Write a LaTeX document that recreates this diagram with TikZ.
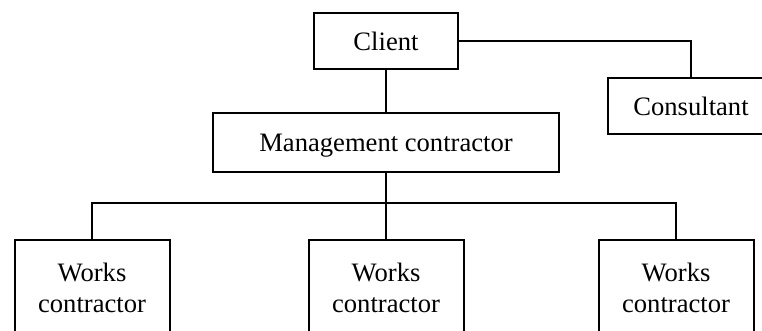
\documentclass[tikz,border=0pt]{standalone}
\usepackage{fontspec}
\setmainfont{Liberation Serif}
\begin{document}
\begin{tikzpicture}[x=1pt, y=-1pt,
  txt/.style={font=\fontsize{26.6}{30}\selectfont},
  box/.style={draw, line width=2pt, inner sep=0pt, txt, text height=19pt, text depth=0pt},
  frame/.style={draw, line width=2pt, inner sep=0pt, minimum width=155pt, minimum height=120pt},
  lbl/.style={inner sep=0pt, anchor=base, txt},
  link/.style={line width=2pt}]
\useasboundingbox (0,0) rectangle (762,331);
\clip (0,0) rectangle (762,331);

% upper tier
\node[box, minimum width=144pt, minimum height=56pt] (client) at (386,41) {Client};
\node[box, minimum width=166pt, minimum height=56pt] (cons) at (691,106) {Consultant};
\node[box, minimum width=346pt, minimum height=59pt] (mgmt) at (386,142.5) {Management contractor};

% works contractors (boxes run off the lower edge)
\node[frame] (w1) at (92,300) {};
\node[frame] (w2) at (386,300) {};
\node[frame] (w3) at (676,300) {};
\node[lbl] (w1a) at (92,281) {Works};
\node[lbl] (w1b) at (92,312) {contractor};
\node[lbl] (w2a) at (386,281) {Works};
\node[lbl] (w2b) at (386,312) {contractor};
\node[lbl] (w3a) at (676,281) {Works};
\node[lbl] (w3b) at (676,312) {contractor};

% connectors
\coordinate (bus) at (386,203);
\draw[link] (client.south) -- (client.south |- mgmt.north);
\draw[link] (client.east) -| (cons.north);
\draw[link] (mgmt.south) -- (mgmt.south |- w2.north);
\draw[link] (w1.north) |- (bus) -| (w3.north);
\end{tikzpicture}
\end{document}
